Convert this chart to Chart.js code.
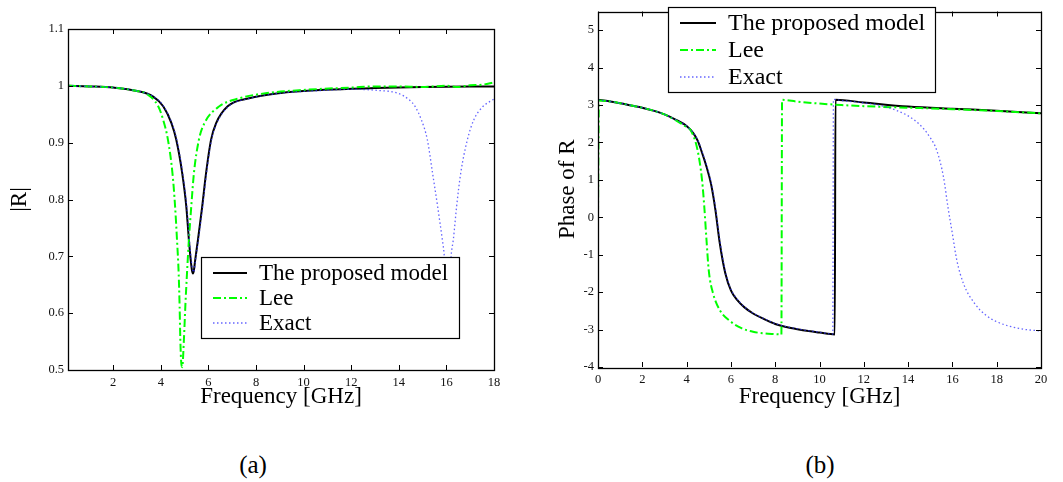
<!DOCTYPE html>
<html>
<head>
<meta charset="utf-8">
<script src="https://cdn.jsdelivr.net/npm/chart.js@4.4.1/dist/chart.umd.min.js"></script>
<style>
  html, body { margin: 0; padding: 0; background: #fff; }
  #wrap { position: relative; width: 1063px; height: 482px; overflow: hidden; font-family: 'Liberation Serif', 'Times New Roman', serif; }
  canvas { position: absolute; top: 0; }
  #magChart { left: 0; }
  #phaseChart { left: 530px; }
  .cap { position: absolute; top: 452px; font-size: 25px; line-height: 25px; transform: translateX(-50%); color: #000; }
</style>
</head>
<body>
<div id="wrap">
  <canvas id="magChart" width="530" height="420"></canvas>
  <canvas id="phaseChart" width="533" height="420"></canvas>
  <div class="cap" style="left:253px">(a)</div>
  <div class="cap" style="left:820px">(b)</div>
</div>
<script>
// ---- Series labels ----
const seriesNames = ['The proposed model', 'Lee', 'Exact'];

// ---- (a) magnitude of the reflection coefficient |R| ----
const magFreqProposed = [0.1, 1, 2, 3, 3.68, 4.1, 4.45, 4.65, 4.9, 5.07, 5.18, 5.26, 5.31, 5.35, 5.39, 5.44, 5.56, 5.74, 5.9, 6.11, 6.32, 6.81, 7.71, 8.96, 10.9, 13, 15, 18];
const magProposed     = [1.000, 0.999, 0.997, 0.991, 0.981, 0.964, 0.934, 0.905, 0.846, 0.788, 0.729, 0.692, 0.675, 0.670, 0.675, 0.692, 0.729, 0.788, 0.846, 0.905, 0.934, 0.964, 0.978, 0.987, 0.993, 0.996, 0.998, 0.999];

const magFreqLee = [0.1, 1, 2, 3, 3.4, 3.89, 4.1, 4.3, 4.49, 4.6, 4.68, 4.75, 4.79, 4.82, 4.86, 4.9, 4.97, 5.03, 5.1, 5.18, 5.28, 5.39, 5.6, 5.83, 6.46, 7.29, 8.4, 10.07, 12, 13, 14, 15, 16, 16.5, 17, 17.5, 18];
const magLee     = [1.000, 0.999, 0.997, 0.991, 0.986, 0.964, 0.94, 0.905, 0.846, 0.788, 0.729, 0.67, 0.612, 0.553, 0.512, 0.505, 0.553, 0.612, 0.67, 0.729, 0.788, 0.846, 0.905, 0.934, 0.964, 0.978, 0.987, 0.993, 0.997, 0.999, 0.999, 0.998, 1.000, 0.998, 1.001, 1.002, 1.006];

const magFreqExact = [0.1, 1, 2, 3, 3.7, 4.12, 4.47, 4.67, 4.92, 5.09, 5.2, 5.28, 5.33, 5.37, 5.41, 5.46, 5.58, 5.76, 5.92, 6.13, 6.35, 6.85, 7.75, 9, 10.9, 12, 13.1, 13.96, 14.45, 14.68, 14.95, 15.2, 15.42, 15.63, 15.83, 15.9, 16.05, 16.21, 16.29, 16.43, 16.6, 16.88, 17.15, 17.5, 18];
const magExact     = [1.000, 0.999, 0.997, 0.991, 0.981, 0.964, 0.934, 0.905, 0.846, 0.788, 0.729, 0.694, 0.677, 0.672, 0.677, 0.694, 0.729, 0.788, 0.846, 0.905, 0.934, 0.964, 0.978, 0.987, 0.992, 0.994, 0.992, 0.987, 0.975, 0.964, 0.94, 0.905, 0.846, 0.788, 0.729, 0.706, 0.62, 0.706, 0.729, 0.788, 0.846, 0.905, 0.94, 0.962, 0.977];

const magTicksX = [2, 4, 6, 8, 10, 12, 14, 16, 18];
const magTicksY = [0.5, 0.6, 0.7, 0.8, 0.9, 1, 1.1];

// ---- (b) phase of the reflection coefficient ----
const phFreqProposed = [0, 0.5, 1, 1.5, 2, 2.5, 3, 3.5, 4, 4.3, 4.5, 4.7, 4.9, 5.1, 5.3, 5.5, 5.75, 6, 6.3, 6.6, 7, 7.5, 8, 8.5, 9, 9.5, 10, 10.69, 10.72, 12, 14, 16, 18, 20];
const phProposed     = [3.14, 3.1, 3.05, 2.99, 2.93, 2.85, 2.75, 2.61, 2.44, 2.25, 2.05, 1.72, 1.35, 0.9, 0.2, -0.7, -1.5, -1.95, -2.22, -2.4, -2.57, -2.72, -2.85, -2.93, -2.99, -3.04, -3.08, -3.13, 3.14, 3.07, 2.96, 2.9, 2.85, 2.78];

const phFreqLee = [0, 0.04, 0.5, 1, 1.5, 2, 2.5, 3, 3.5, 3.9, 4.2, 4.5, 4.7, 4.8, 4.9, 5.0, 5.2, 5.5, 6, 6.5, 7, 7.5, 8, 8.28, 8.31, 9, 10, 11, 12, 14, 16, 18, 20];
const phLee     = [0.1, 3.12, 3.1, 3.05, 2.99, 2.93, 2.85, 2.75, 2.6, 2.45, 2.31, 1.78, 0.98, 0.27, -0.62, -1.42, -2.04, -2.48, -2.79, -2.97, -3.06, -3.1, -3.12, -3.13, 3.14, 3.09, 3.04, 3.0, 2.97, 2.93, 2.89, 2.84, 2.78];

const phFreqExact = [0, 0.5, 1, 1.5, 2, 2.5, 3, 3.5, 4, 4.3, 4.5, 4.7, 4.9, 5.1, 5.3, 5.5, 5.75, 6, 6.3, 6.6, 7, 7.5, 8, 8.5, 9, 9.5, 10, 10.6, 10.63, 11, 12, 13, 14, 14.5, 15, 15.3, 15.6, 15.8, 16, 16.2, 16.5, 17, 17.5, 18, 19, 20];
const phExact     = [3.14, 3.1, 3.05, 2.99, 2.93, 2.85, 2.75, 2.61, 2.44, 2.26, 2.07, 1.76, 1.4, 0.96, 0.28, -0.62, -1.45, -1.92, -2.2, -2.39, -2.56, -2.71, -2.84, -2.92, -2.98, -3.03, -3.07, -3.12, 3.15, 3.12, 3.06, 2.95, 2.71, 2.49, 2.13, 1.78, 1.07, 0.27, -0.44, -1.15, -1.77, -2.3, -2.61, -2.79, -2.97, -3.04];

const phaseTicksX = [0, 2, 4, 6, 8, 10, 12, 14, 16, 18, 20];
const phaseTicksY = [-4, -3, -2, -1, 0, 1, 2, 3, 4, 5];

// ---- styling ----
const SERIF = "'Liberation Serif', 'Times New Roman', serif";
Chart.defaults.font.family = SERIF;
Chart.defaults.color = '#111';

const lineStyles = [
  { borderColor: '#000000', borderWidth: 2, borderDash: [] },
  { borderColor: '#00ff00', borderWidth: 2, borderDash: [8, 3, 2, 3] },
  { borderColor: 'rgba(50,50,255,0.75)', borderWidth: 1.3, borderDash: [1.5, 2.5] }
];

const toPoints = (xs, ys) => xs.map((x, i) => ({ x, y: ys[i] }));

function makeDatasets(seriesX, seriesY) {
  return seriesX.map((xs, i) => ({
    label: seriesNames[i],
    data: toPoints(xs, seriesY[i]),
    ...lineStyles[i],
    pointRadius: 0,
    fill: false,
    cubicInterpolationMode: 'monotone',
    order: 3 - i
  }));
}

// Box frame with inward tick marks on all four sides
const framePlugin = {
  id: 'frame',
  afterDatasetsDraw(chart) {
    const { ctx, chartArea: a, scales: { x, y } } = chart;
    const L = 5;
    ctx.save();
    ctx.strokeStyle = '#000';
    ctx.lineWidth = 1;
    ctx.beginPath();
    x.ticks.forEach(t => {
      const px = Math.round(x.getPixelForValue(t.value)) + 0.5;
      ctx.moveTo(px, a.bottom); ctx.lineTo(px, a.bottom - L);
      ctx.moveTo(px, a.top); ctx.lineTo(px, a.top + L);
    });
    y.ticks.forEach(t => {
      const py = Math.round(y.getPixelForValue(t.value)) + 0.5;
      ctx.moveTo(a.left, py); ctx.lineTo(a.left + L, py);
      ctx.moveTo(a.right, py); ctx.lineTo(a.right - L, py);
    });
    ctx.stroke();
    ctx.lineWidth = 1.3;
    ctx.strokeRect(Math.round(a.left) + 0.5, Math.round(a.top) + 0.5, Math.round(a.right - a.left), Math.round(a.bottom - a.top));
    ctx.restore();
  }
};

// Boxed legend drawn on top of the plot
const boxLegendPlugin = {
  id: 'boxLegend',
  afterDraw(chart, args, opts) {
    const { ctx } = chart;
    const b = opts.box;
    ctx.save();
    ctx.fillStyle = '#fff';
    ctx.fillRect(b.x, b.y, b.w, b.h);
    ctx.strokeStyle = '#000';
    ctx.lineWidth = 1.2;
    ctx.strokeRect(b.x + 0.5, b.y + 0.5, b.w, b.h);
    ctx.font = opts.fontSize + 'px ' + SERIF;
    ctx.textBaseline = 'middle';
    ctx.textAlign = 'left';
    chart.data.datasets.forEach((ds, i) => {
      const cy = opts.rowY[i];
      ctx.strokeStyle = ds.borderColor;
      ctx.lineWidth = ds.borderWidth;
      ctx.setLineDash(ds.borderDash || []);
      ctx.beginPath();
      ctx.moveTo(opts.sampleX0, cy);
      ctx.lineTo(opts.sampleX1, cy);
      ctx.stroke();
      ctx.setLineDash([]);
      ctx.fillStyle = '#000';
      ctx.fillText(ds.label, opts.textX, cy + 1);
    });
    ctx.restore();
  }
};

function fixedTicks(values) {
  return scale => { scale.ticks = values.map(v => ({ value: v })); };
}

function makeChart(canvasId, datasets, cfg) {
  return new Chart(document.getElementById(canvasId), {
    type: 'line',
    data: { datasets },
    plugins: [framePlugin, boxLegendPlugin],
    options: {
      responsive: false,
      animation: false,
      parsing: true,
      layout: { padding: cfg.padding },
      plugins: {
        legend: { display: false },
        tooltip: { enabled: false },
        boxLegend: cfg.legend
      },
      scales: {
        x: {
          type: 'linear',
          min: cfg.xMin, max: cfg.xMax,
          afterBuildTicks: fixedTicks(cfg.xTicks),
          afterFit: s => { s.height = cfg.xAxisHeight; },
          grid: { display: false, drawTicks: false },
          border: { display: false },
          ticks: { autoSkip: false, maxRotation: 0, padding: 5, font: { size: 12.5 }, color: '#111',
                   callback: v => String(+Number(v).toFixed(2)) },
          title: { display: true, text: 'Frequency [GHz]', font: { size: 23 }, color: '#000', padding: 0 }
        },
        y: {
          type: 'linear',
          min: cfg.yMin, max: cfg.yMax,
          afterBuildTicks: fixedTicks(cfg.yTicks),
          afterFit: s => { s.width = cfg.yAxisWidth; },
          grid: { display: false, drawTicks: false },
          border: { display: false },
          ticks: { autoSkip: false, padding: 4, font: { size: 12.5 }, color: '#111',
                   callback: v => String(+Number(v).toFixed(2)) },
          title: { display: true, text: cfg.yTitle, font: { size: 23 }, color: '#000', padding: 0 }
        }
      }
    }
  });
}

makeChart('magChart',
  makeDatasets([magFreqProposed, magFreqLee, magFreqExact], [magProposed, magLee, magExact]),
  {
    padding: { left: 6, top: 29, right: 36, bottom: 9 },
    xMin: 0.1, xMax: 18, yMin: 0.5, yMax: 1.1,
    xTicks: magTicksX, yTicks: magTicksY,
    xAxisHeight: 41, yAxisWidth: 62,
    yTitle: '|R|',
    legend: { box: { x: 201, y: 257, w: 258, h: 81 }, rowY: [273, 298, 323], sampleX0: 213, sampleX1: 247, textX: 259, fontSize: 23 }
  });

makeChart('phaseChart',
  makeDatasets([phFreqProposed, phFreqLee, phFreqExact], [phProposed, phLee, phExact]),
  {
    padding: { left: 24, top: 11, right: 22, bottom: 9 },
    xMin: 0, xMax: 20, yMin: -4, yMax: 5.5,
    xTicks: phaseTicksX, yTicks: phaseTicksY,
    xAxisHeight: 44, yAxisWidth: 44,
    yTitle: 'Phase of R',
    legend: { box: { x: 138, y: 7, w: 267, h: 85 }, rowY: [23, 50, 77], sampleX0: 150, sampleX1: 186, textX: 198, fontSize: 24 }
  });
</script>
</body>
</html>
